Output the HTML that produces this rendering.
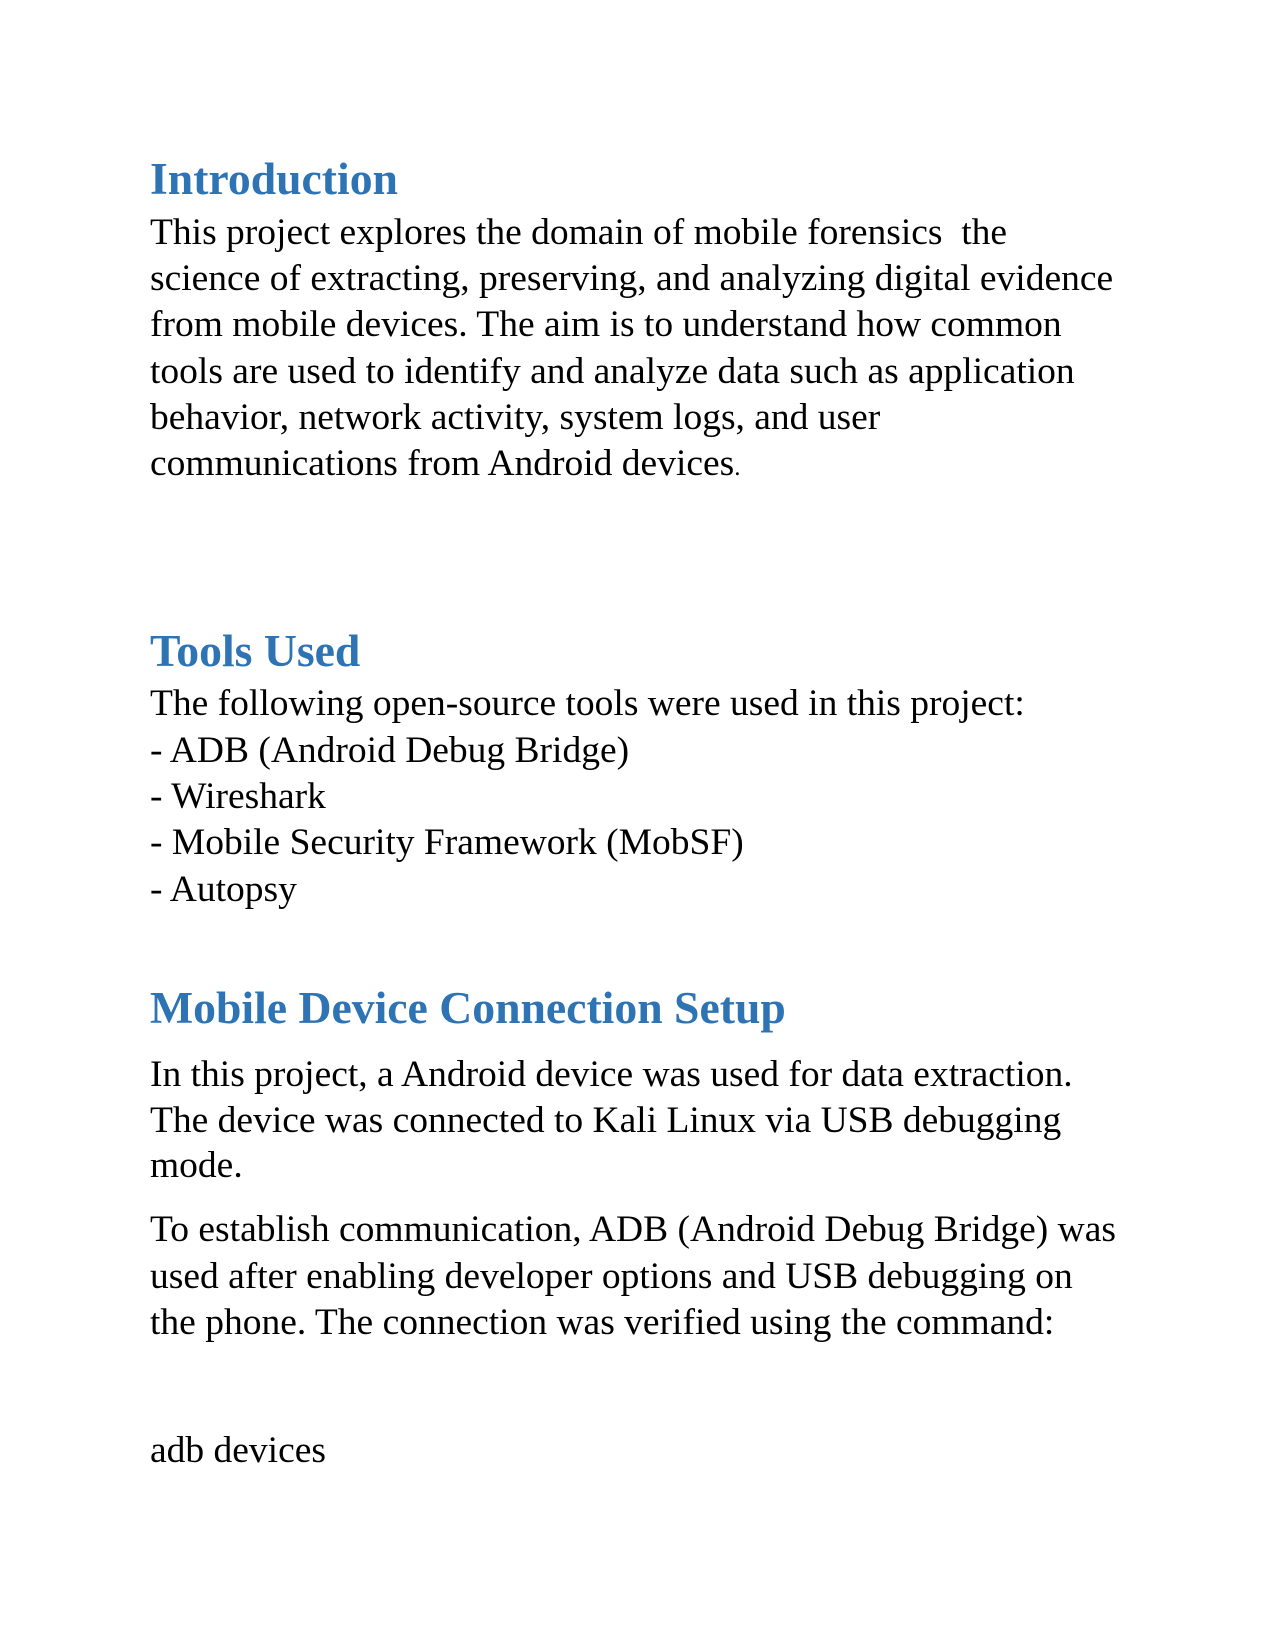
<!DOCTYPE html>
<html><head><meta charset="utf-8"><style>
body{margin:0;width:1275px;height:1650px;background:#fff;position:relative;font-family:"Liberation Serif",serif;color:#000}
.l{position:absolute;left:150px;font-size:37.5px;line-height:37.5px;white-space:nowrap}
.h{position:absolute;left:150px;font-size:45.7px;line-height:45.7px;font-weight:bold;color:#2E74B5;white-space:nowrap}
</style></head><body>
<div class="h" style="top:156px">Introduction</div>
<div class="l" style="top:214px">This project explores the domain of mobile forensics &nbsp;the</div>
<div class="l" style="top:260px">science of extracting, preserving, and analyzing digital evidence</div>
<div class="l" style="top:306px">from mobile devices. The aim is to understand how common</div>
<div class="l" style="top:353px">tools are used to identify and analyze data such as application</div>
<div class="l" style="top:399px">behavior, network activity, system logs, and user</div>
<div class="l" style="top:445px">communications from Android devices<span style="font-size:25px">.</span></div>
<div class="h" style="top:628px">Tools Used</div>
<div class="l" style="top:685px">The following open-source tools were used in this project:</div>
<div class="l" style="top:732px">- ADB (Android Debug Bridge)</div>
<div class="l" style="top:778px">- Wireshark</div>
<div class="l" style="top:824px">- Mobile Security Framework (MobSF)</div>
<div class="l" style="top:871px">- Autopsy</div>
<div class="h" style="top:985px">Mobile Device Connection Setup</div>
<div class="l" style="top:1056px">In this project, a Android device was used for data extraction.</div>
<div class="l" style="top:1102px">The device was connected to Kali Linux via USB debugging</div>
<div class="l" style="top:1147px">mode.</div>
<div class="l" style="top:1211px">To establish communication, ADB (Android Debug Bridge) was</div>
<div class="l" style="top:1258px">used after enabling developer options and USB debugging on</div>
<div class="l" style="top:1304px">the phone. The connection was verified using the command:</div>
<div class="l" style="top:1432px">adb devices</div>
</body></html>
